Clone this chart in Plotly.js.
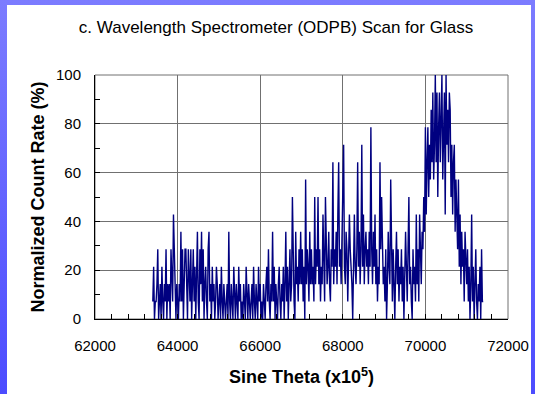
<!DOCTYPE html>
<html>
<head>
<meta charset="utf-8">
<script src="https://cdn.plot.ly/plotly-3.0.1.min.js"></script>
<style>
  html, body { margin: 0; padding: 0; }
  #frame { position: absolute; left: 0; top: 0; width: 535px; height: 394px;
           background: linear-gradient(to bottom, #7c7cff, #4c4cff); overflow: hidden; }
  #sheet { position: absolute; left: 7px; top: 5px; width: 524px; height: 389px; background: #ffffff; }
  #chart { position: absolute; left: 0; top: 0; width: 535px; height: 394px; }
</style>
</head>
<body>
<div id="frame">
  <div id="sheet"></div>
  <div id="chart"></div>
</div>
<script>
// Scan settings: first sine-theta position and step between readings (x10^5)
const scanStart = 63400;
const scanStep = 20;

// Raw counts per step, 63400 .. 71400
const counts = [
  1,3,0,1,1,2,4,0,1,2,0,3,1,0,2,1,4,0,2,1,
  2,0,4,2,1,6,4,1,0,2,1,0,2,1,5,1,4,0,2,4,
  4,1,0,4,2,1,4,0,2,4,1,3,0,4,5,1,0,4,2,5,
  1,4,0,2,3,1,0,4,5,1,2,0,3,1,2,0,1,3,2,0,
  1,2,0,3,1,0,2,1,0,1,2,0,5,1,0,2,1,0,3,1,
  0,2,1,0,3,1,2,0,1,0,2,1,0,3,1,0,2,1,0,1,
  2,0,3,1,0,2,1,0,3,1,2,0,1,0,2,1,0,2,3,1,
  4,1,0,2,1,5,1,3,0,2,1,0,2,3,1,0,2,1,3,0,
  2,5,1,3,0,2,4,1,2,7,3,1,0,5,2,3,1,4,2,5,
  2,4,1,3,0,8,2,4,3,1,5,2,4,2,3,1,7,2,4,3,
  7,2,4,1,3,2,6,3,1,7,4,2,3,5,2,1,4,3,9,2,
  4,3,5,2,6,9,3,4,2,5,9,10,3,2,5,4,1,3,6,4,
  3,2,0,5,6,3,2,4,9,3,5,2,4,10,3,6,2,4,5,3,
  4,2,5,3,11,4,2,5,3,6,2,4,1,3,2,9,4,7,3,2,
  3,1,4,0,2,5,3,2,8,3,1,4,2,0,3,5,2,4,1,3,
  2,4,1,3,0,2,5,3,1,4,7,2,3,1,0,4,2,3,1,6,
  2,4,1,6,3,2,5,4,7,5,11,6,9,11,7,10,8,12,9,13,
  8,10,14,9,13,7,11,13,9,12,14,8,11,13,6,14,10,12,9,13,
  12,7,10,6,9,10,5,8,6,4,8,3,6,2,5,3,4,1,5,3,
  2,4,1,3,0,2,6,1,3,0,2,4,1,0,2,1,3,0,4,1,
  1
];

// Normalize to the largest count, in percent
const peak = Math.max(...counts);
const rate = counts.map(c => 100 * c / peak);

const xTickVals = [62000, 64000, 66000, 68000, 70000, 72000];
const yTickVals = [0, 20, 40, 60, 80, 100];

const font = 'Liberation Sans, Arial, sans-serif';

const trace = {
  type: 'scatter',
  mode: 'lines',
  x0: scanStart,
  dx: scanStep,
  y: rate,
  line: { color: '#000080', width: 1.4 },
  hoverinfo: 'x+y'
};

const layout = {
  width: 535,
  height: 394,
  margin: { l: 95, r: 27, t: 75, b: 75 },
  paper_bgcolor: 'rgba(0,0,0,0)',
  plot_bgcolor: '#ffffff',
  showlegend: false,
  font: { family: font, size: 15, color: '#000000' },
  title: {
    text: 'c. Wavelength Spectrometer (ODPB) Scan for Glass',
    font: { family: font, size: 17, color: '#000000' },
    x: 276 / 535, xref: 'container', xanchor: 'center',
    y: 1 - 27 / 394, yref: 'container', yanchor: 'middle'
  },
  xaxis: {
    range: [62000, 72000],
    tickvals: xTickVals,
    ticktext: xTickVals.map(String),
    ticks: 'inside', ticklen: 5, tickcolor: '#000000', tickwidth: 1,
    minor: { dtick: 400, tick0: 62000, ticks: 'inside', ticklen: 5, tickcolor: '#000000', showgrid: false },
    showgrid: true, gridcolor: '#707070', gridwidth: 1,
    showline: true, linecolor: '#000000', linewidth: 1,
    zeroline: false,
    ticklabelstandoff: 13,
    tickfont: { family: font, size: 15 },
    title: { text: 'Sine Theta (x10<sup>5</sup>)', font: { family: font, size: 18, weight: 'bold' }, standoff: 17 },
    fixedrange: true
  },
  yaxis: {
    range: [0, 100],
    tickvals: yTickVals,
    ticktext: yTickVals.map(String),
    ticks: 'inside', ticklen: 5, tickcolor: '#000000', tickwidth: 1,
    minor: { dtick: 10, tick0: 0, ticks: 'inside', ticklen: 5, tickcolor: '#000000', showgrid: false },
    showgrid: true, gridcolor: '#707070', gridwidth: 1,
    showline: true, linecolor: '#000000', linewidth: 1,
    zeroline: false,
    ticklabelstandoff: 10,
    tickfont: { family: font, size: 15 },
    title: { text: 'Normalized Count Rate (%)', font: { family: font, size: 18, weight: 'bold' }, standoff: 6 },
    fixedrange: true
  },
  shapes: [
    { type: 'rect', xref: 'paper', yref: 'paper', x0: 0, x1: 1, y0: 0, y1: 1,
      line: { color: '#707070', width: 1 }, layer: 'below' }
  ]
};

Plotly.newPlot('chart', [trace], layout, { displayModeBar: false, staticPlot: true });
</script>
</body>
</html>
